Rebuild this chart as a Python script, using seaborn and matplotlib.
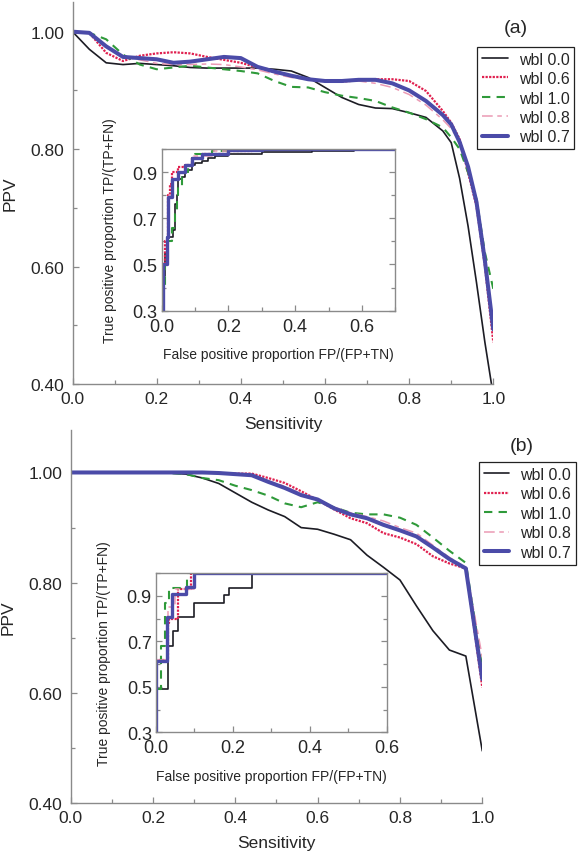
import matplotlib
matplotlib.use('Agg')
import matplotlib.pyplot as plt
import seaborn as sns
from matplotlib.ticker import MultipleLocator

sns.set_style('ticks')
plt.rcParams['font.family'] = ['Liberation Sans', 'DejaVu Sans']

LABELS = ['wbl 0.0', 'wbl 0.6', 'wbl 1.0', 'wbl 0.8', 'wbl 0.7']

# ---- panel (a): PPV vs sensitivity ----
SENS_A = [0, 0.04, 0.08, 0.12, 0.16, 0.2, 0.24, 0.28, 0.32, 0.36, 0.4, 0.44, 0.48,
          0.52, 0.56, 0.6, 0.64, 0.68, 0.72, 0.76, 0.8, 0.84, 0.88, 0.9, 0.92, 0.94,
          0.96, 0.98, 1.0]
PPV_A_00 = [1.0, 0.970, 0.947, 0.944, 0.946, 0.944, 0.942, 0.939, 0.938, 0.938, 0.938,
            0.938, 0.936, 0.933, 0.922, 0.905, 0.888, 0.876, 0.870, 0.869, 0.862, 0.854,
            0.831, 0.811, 0.750, 0.669, 0.573, 0.471, 0.38]
PPV_A_06 = [1.0, 0.998, 0.964, 0.950, 0.959, 0.963, 0.965, 0.963, 0.957, 0.952, 0.947,
            0.939, 0.931, 0.925, 0.919, 0.916, 0.915, 0.917, 0.919, 0.919, 0.916, 0.899,
            0.865, 0.845, 0.817, 0.760, 0.703, 0.601, 0.471]
PPV_A_10 = [1.0, 0.998, 0.987, 0.961, 0.944, 0.936, 0.939, 0.942, 0.939, 0.936, 0.933,
            0.929, 0.916, 0.906, 0.905, 0.897, 0.891, 0.887, 0.882, 0.871, 0.862, 0.851,
            0.837, 0.820, 0.800, 0.760, 0.715, 0.624, 0.562]
PPV_A_08 = [1.0, 0.998, 0.975, 0.958, 0.952, 0.946, 0.944, 0.944, 0.945, 0.944, 0.940,
            0.935, 0.928, 0.922, 0.918, 0.916, 0.916, 0.916, 0.912, 0.905, 0.893, 0.875,
            0.850, 0.835, 0.812, 0.765, 0.710, 0.610, 0.490]
PPV_A_07 = [1.0, 0.998, 0.975, 0.957, 0.955, 0.953, 0.947, 0.949, 0.953, 0.957, 0.955,
            0.940, 0.932, 0.925, 0.919, 0.916, 0.916, 0.918, 0.918, 0.912, 0.900, 0.882,
            0.858, 0.842, 0.812, 0.770, 0.710, 0.610, 0.493]

# inset (a): ROC steps
FPR_A_00 = [0, 0.005, 0.01, 0.02, 0.035, 0.04, 0.045, 0.05, 0.06, 0.07, 0.08, 0.09, 0.1,
            0.12, 0.14, 0.16, 0.2, 0.3, 0.45, 0.575]
TPR_A_00 = [0.3, 0.45, 0.55, 0.62, 0.65, 0.76, 0.8, 0.87, 0.88, 0.9, 0.91, 0.93, 0.94,
            0.95, 0.96, 0.97, 0.98, 0.985, 0.99, 0.99]
FPR_A_06 = [0, 0.003, 0.01, 0.02, 0.025, 0.03, 0.05, 0.07, 0.09, 0.12, 0.2, 0.27]
TPR_A_06 = [0.3, 0.5, 0.6, 0.8, 0.85, 0.9, 0.92, 0.93, 0.96, 0.98, 0.99, 1.0]
FPR_A_10 = [0, 0.005, 0.01, 0.02, 0.03, 0.04, 0.045, 0.05, 0.06, 0.07, 0.08, 0.09, 0.1,
            0.15, 0.25, 0.27]
TPR_A_10 = [0.3, 0.4, 0.5, 0.6, 0.66, 0.72, 0.8, 0.84, 0.88, 0.9, 0.93, 0.96, 0.98,
            0.99, 1.0, 1.0]
FPR_A_08 = [0, 0.005, 0.015, 0.02, 0.03, 0.05, 0.07, 0.09, 0.15, 0.28]
TPR_A_08 = [0.3, 0.5, 0.62, 0.8, 0.87, 0.9, 0.93, 0.97, 0.99, 1.0]
FPR_A_07 = [0, 0.005, 0.015, 0.02, 0.03, 0.05, 0.07, 0.09, 0.12, 0.2, 0.3, 0.7]
TPR_A_07 = [0.3, 0.5, 0.62, 0.79, 0.87, 0.9, 0.93, 0.96, 0.98, 0.995, 1.0, 1.0]

# ---- panel (b) ----
SENS_B = [0, 0.2, 0.24, 0.28, 0.32, 0.36, 0.4, 0.44, 0.48, 0.52, 0.56, 0.6, 0.64, 0.68,
          0.72, 0.76, 0.8, 0.84, 0.88, 0.92, 0.96, 1.0]
PPV_B_00 = [1, 1, 0.999, 0.997, 0.99, 0.98, 0.963, 0.946, 0.932, 0.92, 0.9, 0.897, 0.888,
            0.878, 0.85, 0.828, 0.805, 0.758, 0.713, 0.678, 0.667, 0.495]
PPV_B_06 = [1, 1, 1, 1, 1, 0.999, 0.998, 0.998, 0.99, 0.981, 0.966, 0.95, 0.933, 0.917,
            0.908, 0.89, 0.882, 0.87, 0.848, 0.835, 0.826, 0.61]
PPV_B_10 = [1, 1, 0.999, 0.997, 0.99, 0.986, 0.976, 0.968, 0.958, 0.944, 0.937, 0.946,
            0.937, 0.927, 0.924, 0.924, 0.918, 0.905, 0.882, 0.858, 0.836, 0.645]
PPV_B_08 = [1, 1, 1, 1, 1, 1, 0.998, 0.996, 0.985, 0.975, 0.962, 0.951, 0.937, 0.927,
            0.92, 0.912, 0.9, 0.89, 0.868, 0.846, 0.828, 0.665]
PPV_B_07 = [1, 1, 1, 1, 1, 0.999, 0.997, 0.995, 0.983, 0.972, 0.959, 0.951, 0.935, 0.924,
            0.917, 0.905, 0.895, 0.884, 0.864, 0.843, 0.826, 0.625]

FPR_B_00 = [0, 0, 0.03, 0.043, 0.058, 0.1, 0.176, 0.19, 0.25, 0.6]
TPR_B_00 = [0.3, 0.49, 0.68, 0.745, 0.805, 0.87, 0.903, 0.932, 1.0, 1.0]
FPR_B_06 = [0, 0, 0.03, 0.035, 0.058, 0.09, 0.6]
TPR_B_06 = [0.3, 0.62, 0.78, 0.8, 0.93, 1.0, 1.0]
FPR_B_10 = [0, 0, 0.012, 0.023, 0.035, 0.08, 0.6]
TPR_B_10 = [0.3, 0.49, 0.68, 0.87, 0.934, 1.0, 1.0]
FPR_B_08 = [0, 0, 0.028, 0.03, 0.05, 0.1, 0.6]
TPR_B_08 = [0.3, 0.62, 0.8, 0.85, 0.93, 1.0, 1.0]
FPR_B_07 = [0, 0, 0.028, 0.041, 0.078, 0.1, 0.6]
TPR_B_07 = [0.3, 0.615, 0.805, 0.907, 0.937, 1.0, 1.0]

STYLES = [
    dict(color='#1c1c24', lw=1.2, ls='-'),
    dict(color='#e0204f', lw=1.6, ls=(0, (1, 0.6))),
    dict(color='#2f9a3a', lw=1.5, ls=(0, (4, 3))),
    dict(color='#eb9ab4', lw=1.1, ls=(0, (7, 3, 3, 3))),
    dict(color='#4b4ba8', lw=2.9, ls='-'),
]
SPINE = '#8a8a8a'


def style_main(ax, ymax):
    ax.set_xlim(0, 1.0)
    ax.set_ylim(0.4, ymax)
    ax.patch.set_alpha(0)
    sns.despine(ax=ax)
    for s in ['left', 'bottom']:
        ax.spines[s].set_color(SPINE)
        ax.spines[s].set_linewidth(1.0)
    ax.xaxis.set_minor_locator(MultipleLocator(0.1))
    ax.yaxis.set_minor_locator(MultipleLocator(0.1))
    ax.set_yticks([0.4, 0.6, 0.8, 1.0])
    ax.set_yticklabels(['0.40', '0.60', '0.80', '1.00'])
    ax.set_xticks([0.0, 0.2, 0.4, 0.6, 0.8, 1.0])
    ax.set_xticklabels(['0.0', '0.2', '0.4', '0.6', '0.8', '1.0'])
    ax.tick_params(which='major', direction='in', length=4, width=0.9, color=SPINE,
                   labelsize=12.5, pad=5)
    ax.tick_params(which='minor', direction='in', length=3, width=0.9, color=SPINE)
    ax.tick_params(axis='y', pad=6)
    ax.set_xlabel('Sensitivity', fontsize=12.5, labelpad=7)
    ax.set_ylabel('PPV', fontsize=12.5, labelpad=9)


def style_inset(ax, xmax):
    ax.set_xlim(0, xmax)
    ax.set_ylim(0.3, 1.0)
    for s in ax.spines.values():
        s.set_color(SPINE)
        s.set_linewidth(1.0)
    ax.xaxis.set_minor_locator(MultipleLocator(0.1))
    ax.yaxis.set_minor_locator(MultipleLocator(0.1))
    ax.tick_params(which='both', direction='in', right=True, color=SPINE, width=0.9)
    ax.tick_params(which='major', length=4, labelsize=13, pad=3)
    ax.tick_params(axis='x', pad=5)
    ax.tick_params(which='minor', length=3)
    xt = [t for t in [0.0, 0.2, 0.4, 0.6] if t <= xmax + 1e-9]
    ax.set_xticks(xt)
    ax.set_xticklabels([f'{t:.1f}' for t in xt])
    ax.set_yticks([0.3, 0.5, 0.7, 0.9])
    ax.set_yticklabels(['0.3', '0.5', '0.7', '0.9'])
    ax.set_xlabel('False positive proportion FP/(FP+TN)', fontsize=10, labelpad=9)
    ax.set_ylabel('True positive proportion TP/(TP+FN)', fontsize=10, labelpad=11)


def draw_main(ax, sens, series):
    for ppv, lab, st in zip(series, LABELS, STYLES):
        sns.lineplot(x=sens, y=ppv, ax=ax, estimator=None, sort=False, label=lab,
                     color=st['color'], linewidth=st['lw'], linestyle=st['ls'])


def draw_inset(ax, curves):
    for (fpr, tpr), st in zip(curves, STYLES):
        sns.lineplot(x=fpr, y=tpr, ax=ax, estimator=None, sort=False,
                     color=st['color'], linewidth=min(st['lw'], 2.4), linestyle=st['ls'],
                     drawstyle='steps-post')


fig = plt.figure(figsize=(5.82, 8.53), dpi=100)

ax_a = fig.add_axes([0.1246, 0.5487, 0.7230, 0.4474])
draw_main(ax_a, SENS_A, [PPV_A_00, PPV_A_06, PPV_A_10, PPV_A_08, PPV_A_07])
style_main(ax_a, 1.05)

ax_b = fig.add_axes([0.1213, 0.0571, 0.7074, 0.4376])
draw_main(ax_b, SENS_B, [PPV_B_00, PPV_B_06, PPV_B_10, PPV_B_08, PPV_B_07])
style_main(ax_b, 1.077)

for ax, anchor, tag, tag_xy in [(ax_a, (0.820, 0.944), '(a)', (0.887, 0.967)),
                               (ax_b, (0.823, 0.457), '(b)', (0.896, 0.476))]:
    h, l = ax.get_legend_handles_labels()
    leg = ax.legend(h, l, loc='upper left', bbox_to_anchor=anchor,
                    bbox_transform=fig.transFigure, fontsize=11.5, frameon=True,
                    fancybox=False, framealpha=1, edgecolor='#222222',
                    handlelength=1.6, handletextpad=0.7, labelspacing=0.28,
                    borderpad=0.3, borderaxespad=0)
    leg.get_frame().set_linewidth(0.9)
    fig.text(tag_xy[0], tag_xy[1], tag, fontsize=14, ha='center', va='center')

ins_a = fig.add_axes([0.2778, 0.6346, 0.4014, 0.1896])
draw_inset(ins_a, [(FPR_A_00, TPR_A_00), (FPR_A_06, TPR_A_06), (FPR_A_10, TPR_A_10),
                   (FPR_A_08, TPR_A_08), (FPR_A_07, TPR_A_07)])
style_inset(ins_a, 0.7)

ins_b = fig.add_axes([0.2680, 0.1401, 0.3966, 0.1870])
draw_inset(ins_b, [(FPR_B_00, TPR_B_00), (FPR_B_06, TPR_B_06), (FPR_B_10, TPR_B_10),
                   (FPR_B_08, TPR_B_08), (FPR_B_07, TPR_B_07)])
style_inset(ins_b, 0.6)

fig.savefig('out.png', dpi=100)
